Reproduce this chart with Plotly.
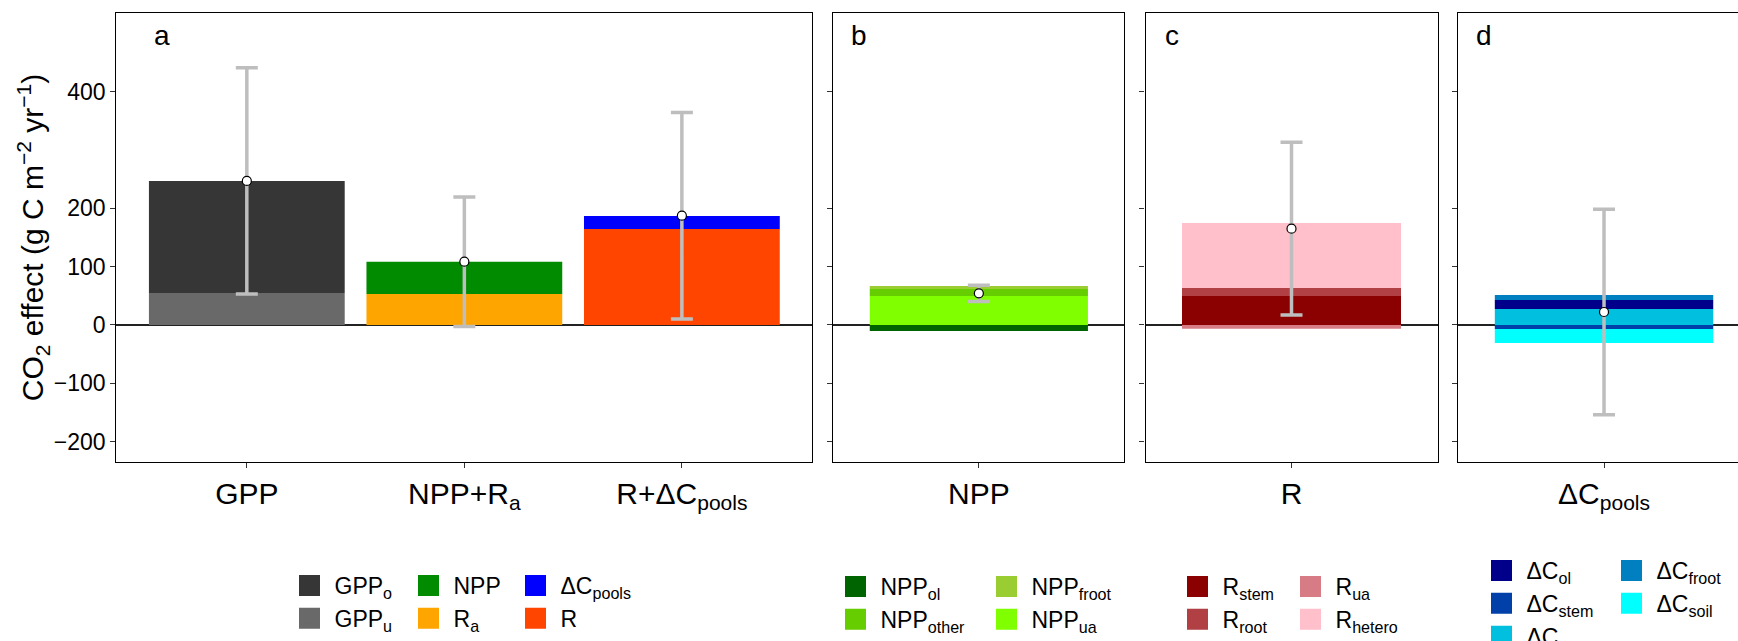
import plotly.graph_objects as go

# ---------------- data ----------------
# panel a
a_cats = ["GPP", "NPP+Ra", "R+dCpools"]
a_ticktext = ["GPP", "NPP+R<sub>a</sub>", "R+ΔC<sub>pools</sub>"]
a_mean = [247.0, 108.6, 187.4]
a_err = [194.0, 111.0, 177.0]
a_comp_names = ["GPP<sub>u</sub>", "GPP<sub>o</sub>", "R<sub>a</sub>", "NPP", "R", "ΔC<sub>pools</sub>"]
a_comp_cats = ["GPP", "GPP", "NPP+Ra", "NPP+Ra", "R+dCpools", "R+dCpools"]
a_comp_vals = [55.0, 192.0, 53.0, 55.5, 164.6, 22.3]

# panel b
b_cats = ["NPP"]
b_ticktext = ["NPP"]
b_mean = [54.3]
b_err = [14.0]
b_comp_names = ["NPP<sub>ua</sub>", "NPP<sub>other</sub>", "NPP<sub>froot</sub>", "NPP<sub>ol</sub>"]
b_comp_vals = [49.7, 12.0, 5.2, -10.3]

# panel c
c_cats = ["R"]
c_ticktext = ["R"]
c_mean = [165.1]
c_err = [148.0]
c_comp_names = ["R<sub>stem</sub>", "R<sub>root</sub>", "R<sub>hetero</sub>", "R<sub>ua</sub>"]
c_comp_vals = [49.7, 13.7, 111.5, -6.3]

# panel d
d_cats = ["dCpools"]
d_ticktext = ["ΔC<sub>pools</sub>"]
d_mean = [22.3]
d_err = [176.0]
d_comp_names = ["ΔC<sub>ua</sub>", "ΔC<sub>ol</sub>", "ΔC<sub>froot</sub>", "ΔC<sub>stem</sub>", "ΔC<sub>soil</sub>"]
d_comp_vals = [27.4, 15.5, 8.5, -6.9, -24.0]

y_tickvals = [-200, -100, 0, 100, 200, 400]
y_ticktext = ["−200", "−100", "0", "100", "200", "400"]

# legend columns (order as in the reference)
legend_columns = [
    ["GPP<sub>o</sub>", "GPP<sub>u</sub>"],
    ["NPP", "R<sub>a</sub>"],
    ["ΔC<sub>pools</sub>", "R"],
    ["NPP<sub>ol</sub>", "NPP<sub>other</sub>"],
    ["NPP<sub>froot</sub>", "NPP<sub>ua</sub>"],
    ["R<sub>stem</sub>", "R<sub>root</sub>"],
    ["R<sub>ua</sub>", "R<sub>hetero</sub>"],
    ["ΔC<sub>ol</sub>", "ΔC<sub>stem</sub>", "ΔC<sub>ua</sub>"],
    ["ΔC<sub>froot</sub>", "ΔC<sub>soil</sub>"],
]

# ---------------- styles ----------------
colors = {
    "GPP<sub>o</sub>": "#363636", "GPP<sub>u</sub>": "#696969",
    "NPP": "#008B00", "R<sub>a</sub>": "#FFA500",
    "ΔC<sub>pools</sub>": "#0000FF", "R": "#FF4500",
    "NPP<sub>ol</sub>": "#006400", "NPP<sub>other</sub>": "#66CD00",
    "NPP<sub>froot</sub>": "#9ACD32", "NPP<sub>ua</sub>": "#7FFF00",
    "R<sub>stem</sub>": "#8B0000", "R<sub>root</sub>": "#B04044",
    "R<sub>ua</sub>": "#D77C84", "R<sub>hetero</sub>": "#FFC0CB",
    "ΔC<sub>ol</sub>": "#00008B", "ΔC<sub>stem</sub>": "#0040A8",
    "ΔC<sub>ua</sub>": "#00BFDF", "ΔC<sub>froot</sub>": "#0080C0",
    "ΔC<sub>soil</sub>": "#00FFFF",
}

W, H = 1738, 641
L, R, T, B = 116, 0, 13, 179
PW, PH = W - L - R, H - T - B


def px_x(px):
    return (px - L) / PW


def px_y(py):
    return 1 - (py - T) / PH


FONT = "Liberation Sans, Arial, sans-serif"
ERR_COLOR = "#BEBEBE"

fig = go.Figure()


def add_bars(xax, yax, cats, names, vals):
    for cat, name, val in zip(cats, names, vals):
        fig.add_trace(go.Bar(
            x=[cat], y=[val], width=0.9, name=name, legendgroup=name,
            marker=dict(color=colors[name], line=dict(width=0)),
            showlegend=False, xaxis=xax, yaxis=yax, hoverinfo="name+y"))


def add_err(xax, yax, cats, mean, err):
    fig.add_trace(go.Scatter(
        x=cats, y=mean, mode="markers", showlegend=False,
        xaxis=xax, yaxis=yax,
        error_y=dict(type="data", array=err, color=ERR_COLOR, thickness=3.5, width=11),
        marker=dict(symbol="circle", size=9, color="white", line=dict(color="black", width=1.2))))


add_bars("x", "y", a_comp_cats, a_comp_names, a_comp_vals)
add_err("x", "y", a_cats, a_mean, a_err)
add_bars("x2", "y2", b_cats * len(b_comp_names), b_comp_names, b_comp_vals)
add_err("x2", "y2", b_cats, b_mean, b_err)
add_bars("x3", "y3", c_cats * len(c_comp_names), c_comp_names, c_comp_vals)
add_err("x3", "y3", c_cats, c_mean, c_err)
add_bars("x4", "y4", d_cats * len(d_comp_names), d_comp_names, d_comp_vals)
add_err("x4", "y4", d_cats, d_mean, d_err)

# legend entries (one legend per column)
for i, col in enumerate(legend_columns):
    lid = "legend" if i == 0 else f"legend{i + 1}"
    for name in col:
        fig.add_trace(go.Scatter(
            x=[None], y=[None], mode="markers", name=name, legendgroup=name,
            legend=lid, showlegend=True,
            marker=dict(symbol="square", size=16, color=colors[name],
                        line=dict(color=colors[name], width=5))))

# ---------------- layout ----------------
domains = [
    (px_x(116.3), px_x(812.4)),
    (px_x(833.4), px_x(1124.3)),
    (px_x(1145.5), px_x(1437.5)),
    (px_x(1458.4), 1.0),
]
x_ranges = [[-0.6, 2.6], [-0.6, 0.6], [-0.6, 0.6], [-0.6, 0.552]]
x_cats = [a_cats, b_cats, c_cats, d_cats]
x_texts = [a_ticktext, b_ticktext, c_ticktext, d_ticktext]
y_range = [-234.9, 534.9]

layout = dict(
    width=W, height=H,
    margin=dict(l=L, r=R, t=T, b=B, autoexpand=False),
    paper_bgcolor="white", plot_bgcolor="white",
    barmode="relative",
    font=dict(family=FONT, color="black"),
    showlegend=True,
)

for i in range(4):
    sx = "" if i == 0 else str(i + 1)
    layout["xaxis" + sx] = dict(
        domain=list(domains[i]), anchor="y" + sx, type="category",
        range=x_ranges[i], tickmode="array", tickvals=x_cats[i], ticktext=x_texts[i],
        showline=True, mirror=True, linecolor="black", linewidth=1.3,
        ticks="outside", ticklen=5, tickwidth=1.3, tickcolor="#333",
        tickfont=dict(size=30, family=FONT, color="black"),
        showgrid=False, zeroline=False, fixedrange=True)
    yd = dict(
        anchor="x" + sx, domain=[0, 1], range=y_range,
        tickmode="array", tickvals=y_tickvals, ticktext=y_ticktext,
        showline=True, mirror=(i < 3), linecolor="black", linewidth=1.3,
        ticks="outside", ticklen=5, tickwidth=1.3, tickcolor="#333",
        tickfont=dict(size=23, family=FONT, color="black"),
        showticklabels=(i == 0),
        showgrid=False, zeroline=True, zerolinecolor="#222", zerolinewidth=1.6,
        fixedrange=True)
    if i > 0:
        yd["matches"] = "y"
    else:
        yd["title"] = dict(text="CO<sub>2</sub> effect (g C m<sup>−2</sup> yr<sup>−1</sup>)",
                           font=dict(size=30, family=FONT, color="black"), standoff=0)
    layout["yaxis" + sx] = yd

legend_key_centers = [309.5, 428.5, 535.5, 855.5, 1006.5, 1197.5, 1310.5, 1501.5, 1631.5]
legend_tops = [564, 564, 564, 565, 565, 565, 565, 549, 549]
ITEMW = 40
for i, (kc, top) in enumerate(zip(legend_key_centers, legend_tops)):
    lid = "legend" if i == 0 else f"legend{i + 1}"
    layout[lid] = dict(
        x=px_x(kc - ITEMW / 2 - 5), xanchor="left", y=px_y(top), yanchor="top",
        orientation="v", bgcolor="rgba(0,0,0,0)", borderwidth=0,
        font=dict(size=23, family=FONT, color="black"),
        itemsizing="trace", itemwidth=ITEMW, tracegroupgap=0)

fig.update_layout(**layout)

# panel letters
letters = [("a", 152), ("b", 849), ("c", 1163), ("d", 1474)]
for txt, px in letters:
    fig.add_annotation(text=txt, xref="paper", yref="paper", x=px_x(px), y=px_y(36),
                       xanchor="left", yanchor="middle", showarrow=False,
                       font=dict(size=28, family=FONT, color="black"))

fig.write_html("out.html")
